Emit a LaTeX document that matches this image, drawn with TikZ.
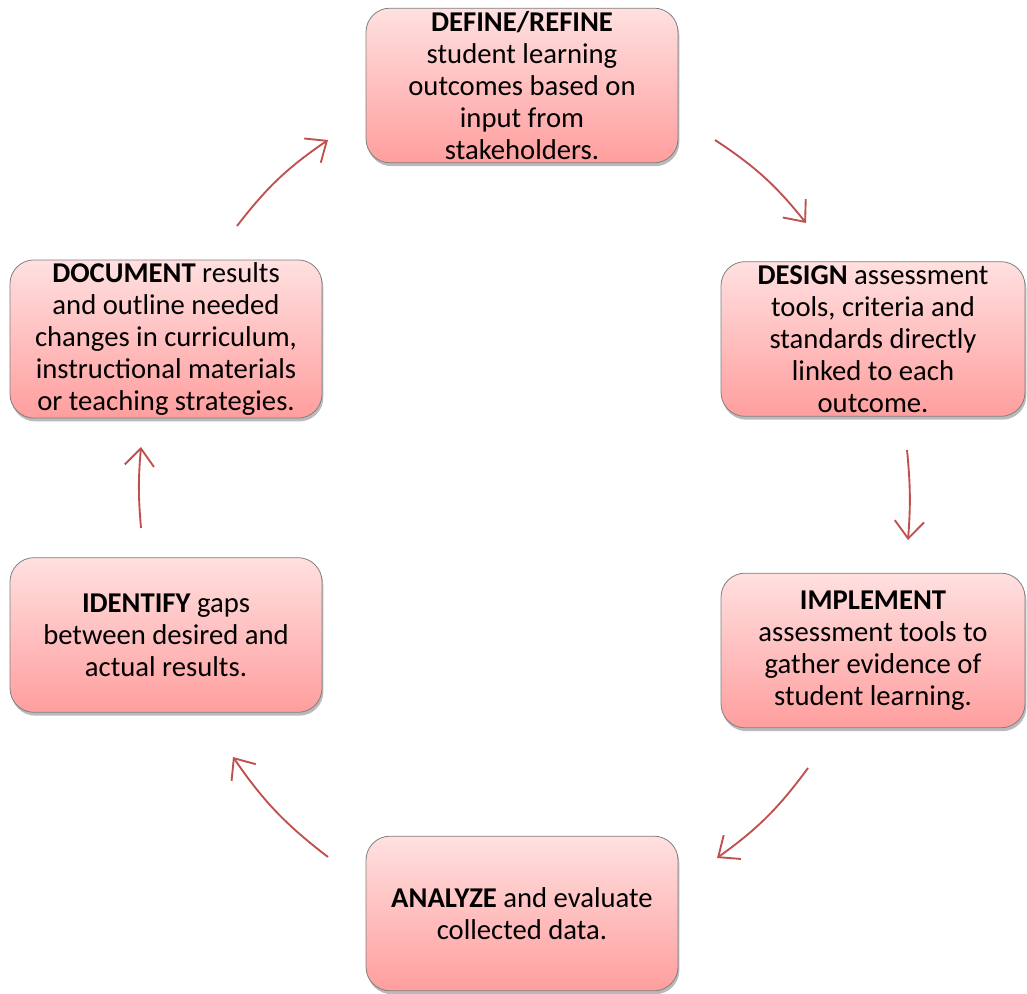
\documentclass[tikz,border=0pt]{standalone}
\usepackage{fontspec}
\setmainfont{Carlito}
\usetikzlibrary{arrows.meta,shadows}
\definecolor{arrowred}{RGB}{192,80,77}
\definecolor{boxtop}{RGB}{255,224,224}
\definecolor{boxbottom}{RGB}{255,158,158}
\tikzset{
  stagebox/.style={draw=black!50, line width=0.6pt, rounded corners=18pt,
    top color=boxtop, bottom color=boxbottom, align=center,
    minimum width=234pt, minimum height=116pt, inner sep=2pt,
    font=\fontsize{21.5}{24}\selectfont,
    drop shadow={shadow xshift=1pt, shadow yshift=-2.5pt, opacity=0.45, fill=black!60}},
  cyclearrow/.style={draw=arrowred, line width=1.4pt,
    -{Straight Barb[length=13pt, width=22pt, line width=1.4pt]}}
}
\begin{document}
\begin{tikzpicture}[x=0.75pt, y=-0.75pt]
  \clip (0,0) rectangle (1027,994);
  % the six stages
  \node[stagebox] (define) at (522,85.5) {\textbf{DEFINE/REFINE}\\student learning\\outcomes based on\\input from\\stakeholders.};
  \node[stagebox, minimum width=228pt] (design) at (873,339) {\textbf{DESIGN} assessment\\tools, criteria and\\standards directly\\linked to each\\outcome.};
  \node[stagebox, minimum width=228pt] (implement) at (873,650.5) {\textbf{IMPLEMENT}\\assessment tools to\\gather evidence of\\student learning.};
  \node[stagebox] (analyze) at (522,913.5) {\textbf{ANALYZE} and evaluate\\collected data.};
  \node[stagebox] (identify) at (166,635) {\textbf{IDENTIFY} gaps\\between desired and\\actual results.};
  \node[stagebox] (document) at (166,339) {\textbf{DOCUMENT} results\\and outline needed\\changes in curriculum,\\instructional materials\\or teaching strategies.};
  % arrow ends
  \coordinate (a1) at (715,140);  \coordinate (b1) at (806,223);
  \coordinate (a2) at (907,450);  \coordinate (b2) at (908,540);
  \coordinate (a3) at (808,768);  \coordinate (b3) at (717,858);
  \coordinate (a4) at (328,857);  \coordinate (b4) at (233,757);
  \coordinate (a5) at (141,528);  \coordinate (b5) at (141,447);
  \coordinate (a6) at (237,226);  \coordinate (b6) at (328,140);
  \draw[cyclearrow] (a1) to[bend left=9] (b1);
  \draw[cyclearrow] (a2) to[bend left=5] (b2);
  \draw[cyclearrow] (a3) to[bend left=9] (b3);
  \draw[cyclearrow] (a4) to[bend left=9] (b4);
  \draw[cyclearrow] (a5) to[bend left=5] (b5);
  \draw[cyclearrow] (a6) to[bend left=9] (b6);
\end{tikzpicture}
\end{document}
